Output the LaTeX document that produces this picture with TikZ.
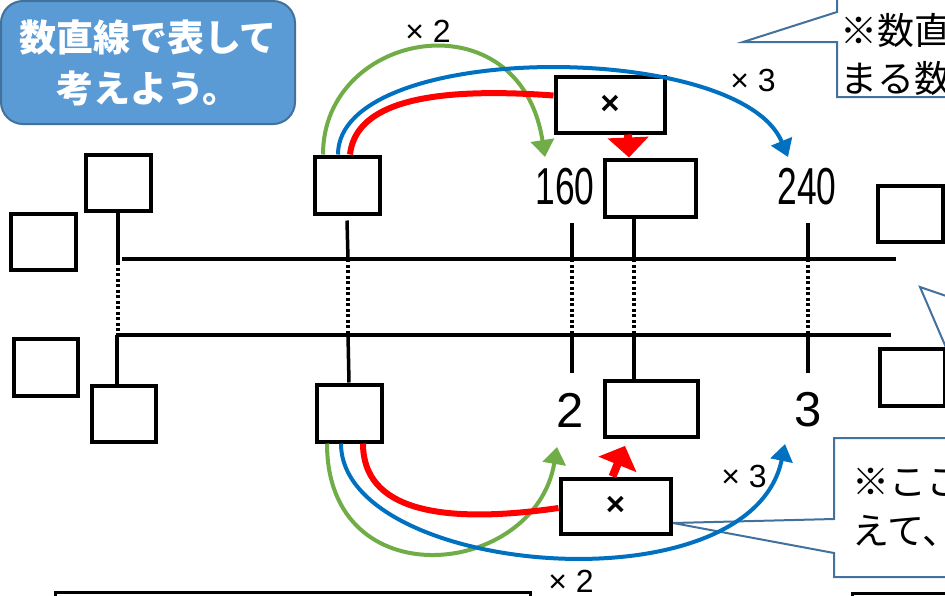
\documentclass[tikz,border=0pt]{standalone}
\usepackage{fontspec}
\newfontfamily\jpfont{Noto Sans CJK JP}
\newfontfamily\numfont{Liberation Sans}
\newfontfamily\narrowfont[FakeStretch=0.68]{Liberation Sans}
\usetikzlibrary{arrows.meta}

\definecolor{titleblue}{HTML}{5B9BD5}
\definecolor{titleedge}{HTML}{41719C}
\definecolor{noteedge}{HTML}{41719C}
\definecolor{mulgreen}{HTML}{70AD47}
\definecolor{mulblue}{HTML}{0070C0}
\definecolor{mulred}{HTML}{FF0000}

\tikzset{
	numbox/.style={rectangle, draw, line width=4pt, fill=white, inner sep=0pt,
		minimum width=65pt, minimum height=56pt},
	opbox/.style={numbox, minimum width=109pt, minimum height=56pt,
		font=\numfont\bfseries\fontsize{33}{33}\selectfont},
	titlebox/.style={rectangle, rounded corners=22pt, fill=titleblue, draw=titleedge,
		line width=2pt, minimum width=294pt, minimum height=123pt, text=white,
		align=center, font=\jpfont\bfseries\fontsize{37}{51}\selectfont},
	note/.style={inner sep=0pt, align=left, anchor=west},
	notebox/.style={draw=noteedge, fill=white, line width=2pt, line join=miter},
	mullabel/.style={inner sep=0pt, font=\numfont\fontsize{32}{32}\selectfont},
	bignum/.style={inner sep=0pt, font=\narrowfont\fontsize{52}{52}\selectfont},
	ratio/.style={inner sep=0pt, font=\numfont\fontsize{49}{49}\selectfont},
	numline/.style={line width=3.5pt},
	tick/.style={line width=3.5pt},
	dots/.style={line width=3.5pt, dash pattern=on 3pt off 2.5pt},
	garrow/.style={draw=mulgreen, line width=4pt, -{Triangle[width=23pt, length=17pt]}},
	barrow/.style={draw=mulblue, line width=4pt, -{Triangle[width=22pt, length=17pt]}},
	rline/.style={draw=mulred, line width=6pt},
	rarrow/.style={draw=mulred, line width=8pt, -{Triangle[width=40pt, length=20pt]}}
}

\begin{document}
\begin{tikzpicture}[x=1pt, y=-1pt]
\useasboundingbox (0,0) rectangle (945,595);
\clip (0,0) rectangle (945,595);
\fill[white] (0,0) rectangle (945,595);

% title
\node[titlebox] (title) at (148,62.5) {数直線で表して\\考えよう。};

% notes on the right
\draw[notebox] (980,-10) -- (837,-10) -- (837,12) -- (743,42) -- (837,42)
	-- (837,97) -- (980,97) -- cycle;
\node[note, font=\jpfont\fontsize{37}{48}\selectfont] (note1) at (840,54) {※数直\\まる数};
\draw[notebox] (990,311) -- (920,287) -- (990,450) -- cycle;
\draw[notebox] (980,438) -- (834,438) -- (834,519) -- (673,523) -- (834,553)
	-- (834,577) -- (980,577) -- cycle;
\node[note, font=\jpfont\fontsize{37}{49}\selectfont] (note2) at (852,507.5) {※ここ\\えて、};

% number lines
\draw[numline] (122,259) -- (896,259);
\draw[numline] (116,335) -- (891,335);

% boxes
\node[numbox] (A0) at (43,241.5) {};
\node[numbox] (A1) at (118,182.5) {};
\node[numbox, minimum height=57pt] (A2) at (347,185) {};
\node[numbox, minimum width=91pt, minimum height=57pt] (A3) at (650,188) {};
\node[numbox] (A4) at (910,213.5) {};
\node[numbox, minimum width=64pt, minimum height=57pt] (B0) at (45.5,367) {};
\node[numbox, minimum width=64pt] (B1) at (123.5,413.5) {};
\node[numbox, minimum height=57pt] (B2) at (349,413) {};
\node[numbox, minimum width=93pt] (B3) at (651,408.5) {};
\node[numbox, minimum height=57pt] (B4) at (912,377) {};
\node[numbox, line width=3pt, minimum width=475pt, minimum height=60pt] (ans1) at (292.5,622) {};
\node[numbox, line width=3pt, minimum width=200pt, minimum height=60pt] (ans2) at (952,623) {};

% ticks
\draw[tick] (A1.south) -- (118,262);
\draw[dots] (118,262) -- (118,335);
\draw[tick] (117,335) -- (117,386);
\draw[tick] ([yshift=-5pt]A2.south) -- (348,259);
\draw[dots] (348,259) -- (348,335);
\draw[tick] (348,335) -- (B2.north);
\draw[tick] ([xshift=-16pt]A3.south) -- (634,259);
\draw[dots] (634,259) -- (634,335);
\draw[tick] (634,335) -- ([xshift=-17pt]B3.north);
\foreach \x in {572, 808} {
	\draw[tick] (\x,223) -- (\x,259);
	\draw[dots] (\x,259) -- (\x,335);
	\draw[tick] (\x,335) -- (\x,373);
}

% values
\node[bignum] (n160) at (565,187) {160};
\node[bignum] (n240) at (807,187) {240};
\node[ratio] (r2) at (570,410) {2};
\node[ratio] (r3) at (808,410) {3};

% operator boxes
\node[opbox] (mt) at (610,104.5) {×\hspace{36pt}};
\node[opbox, minimum width=110pt, minimum height=55pt] (mb) at (615.5,506) {×\hspace{38pt}};

\coordinate (t160) at (545,157);
\coordinate (t240) at (788,157);
\coordinate (t2) at (557,447);
\coordinate (t3) at (785,444);

% upper arrows
\draw[garrow] ([xshift=-24pt]A2.north) .. controls (323,30) and (520,-5) .. (t160);
\draw[barrow] ([xshift=-9pt]A2.north) .. controls (338,40) and (740,40) .. (t240);
\draw[rline] ([xshift=3pt]A2.north) .. controls (355,110) and (410,85) .. ([yshift=9pt]mt.west);
\draw[rarrow] ([xshift=18pt]mt.south) -- ([xshift=-21pt]A3.north);

% lower arrows
\draw[garrow] ([xshift=-22pt]B2.south) .. controls (327,600) and (535,578) .. (t2);
\draw[barrow] ([xshift=-8pt]B2.south) .. controls (341,575) and (750,612) .. (t3);
\draw[rline] ([xshift=14pt]B2.south) .. controls (363,510) and (440,525) .. ([yshift=-2pt]mb.west);
\draw[rarrow, shorten >=8pt] ([xshift=-3pt]mb.north) -- ([xshift=-23pt]B3.south);

% factors
\node[mullabel] (m2top) at (428,31) {× 2};
\node[mullabel] (m3top) at (753,80) {× 3};
\node[mullabel] (m3bot) at (744,476) {× 3};
\node[mullabel] (m2bot) at (571,581) {× 2};
\end{tikzpicture}
\end{document}
